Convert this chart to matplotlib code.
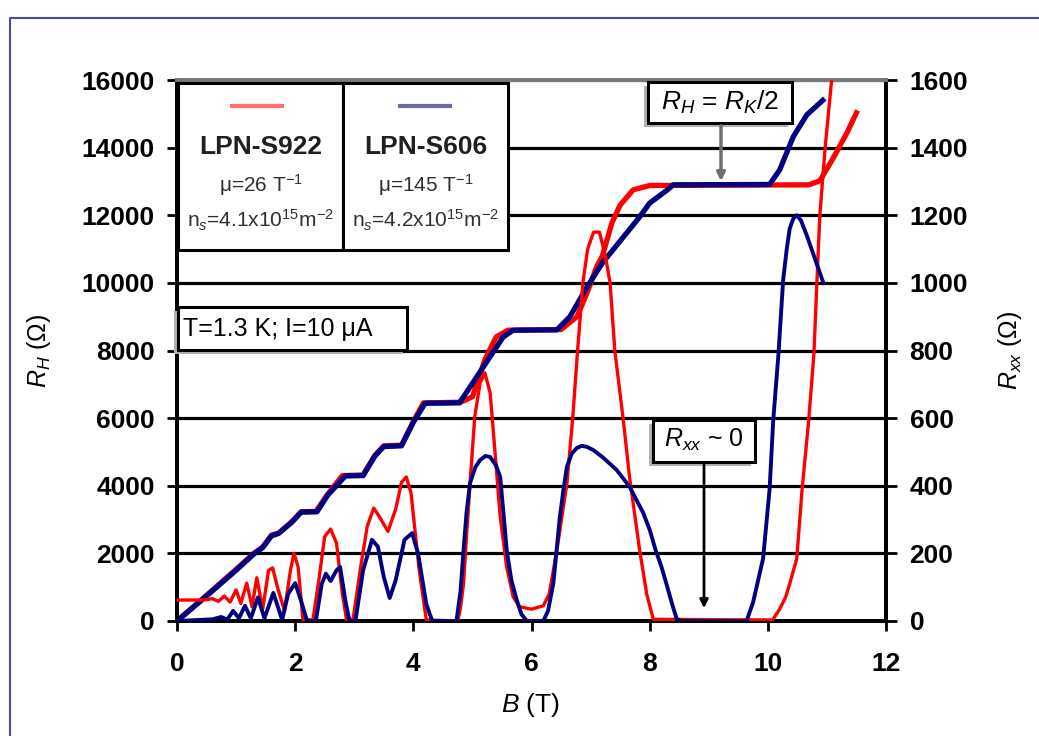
import numpy as np
import matplotlib
matplotlib.use("Agg")
import matplotlib.pyplot as plt
from matplotlib.patches import Rectangle, FancyArrowPatch
from matplotlib.lines import Line2D

plt.rcParams['font.family'] = ['Liberation Sans', 'DejaVu Sans']
plt.rcParams['mathtext.fontset'] = 'custom'
plt.rcParams['mathtext.rm'] = 'Liberation Sans'
plt.rcParams['mathtext.it'] = 'Liberation Sans:italic'
plt.rcParams['mathtext.bf'] = 'Liberation Sans:bold'

# Hall resistance R_H (left axis, Ohm) vs B (T)
rh_red = [(0, 0), (0.5, 760), (1.0, 1530), (1.3, 2000), (1.45, 2190), (1.6, 2540),
          (1.72, 2600), (1.95, 2950), (2.1, 3230), (2.35, 3240), (2.55, 3750),
          (2.8, 4300), (3.15, 4320), (3.35, 4900), (3.5, 5180), (3.8, 5200),
          (4.0, 5900), (4.17, 6450), (4.8, 6470), (5.0, 6630), (5.21, 7720),
          (5.4, 8400), (5.6, 8600), (6.5, 8620), (6.77, 9000), (6.94, 9700),
          (7.1, 10470), (7.2, 10800), (7.36, 11770), (7.5, 12300), (7.72, 12750),
          (8.0, 12880), (10.7, 12900), (10.88, 13020), (11.1, 13670),
          (11.34, 14440), (11.5, 15030)]
rh_blue = [(0, 0), (0.5, 740), (1.0, 1500), (1.3, 1980), (1.45, 2170), (1.6, 2520),
           (1.72, 2590), (1.95, 2930), (2.1, 3220), (2.37, 3230), (2.55, 3720),
           (2.85, 4290), (3.15, 4300), (3.35, 4880), (3.5, 5160), (3.8, 5180),
           (4.0, 5880), (4.2, 6440), (4.78, 6450), (4.85, 6630), (5.18, 7500),
           (5.52, 8400), (5.69, 8600), (6.43, 8610), (6.65, 9000), (6.94, 9880),
           (7.2, 10590), (7.83, 11950), (8.0, 12360), (8.3, 12750), (8.4, 12900),
           (10.03, 12910), (10.2, 13340), (10.43, 14320), (10.66, 14970),
           (10.93, 15400)]

# longitudinal resistance R_xx (right axis, Ohm) vs B (T)
rxx_red = [(0, 62), (0.45, 62), (0.6, 66), (0.7, 58), (0.8, 74), (0.9, 56), (1.0, 92),
           (1.08, 52), (1.18, 112), (1.27, 42), (1.35, 128), (1.45, 35), (1.55, 150),
           (1.62, 157), (1.7, 100), (1.82, 30), (1.92, 150), (1.98, 200), (2.05, 160),
           (2.13, 5), (2.3, 3), (2.4, 120), (2.5, 250), (2.6, 272), (2.7, 230),
           (2.8, 80), (2.87, 3), (2.98, 5), (3.1, 150), (3.22, 280), (3.33, 334),
           (3.42, 310), (3.57, 265), (3.7, 330), (3.8, 410), (3.88, 426), (3.96, 380),
           (4.1, 150), (4.22, 3), (4.75, 0), (4.8, 40), (4.85, 112), (4.9, 250),
           (4.96, 408), (5.04, 605), (5.13, 704), (5.21, 734), (5.3, 675), (5.38, 505),
           (5.47, 308), (5.58, 160), (5.69, 71), (5.8, 42), (6.0, 35), (6.2, 45),
           (6.3, 80), (6.43, 210), (6.6, 408), (6.7, 605), (6.78, 800), (6.87, 1000),
           (6.95, 1100), (7.05, 1150), (7.15, 1150), (7.25, 1080), (7.33, 1000),
           (7.41, 800), (7.55, 600), (7.66, 425), (7.83, 210), (7.95, 80), (8.06, 5),
           (10.08, 3), (10.2, 35), (10.3, 70), (10.37, 110), (10.49, 185), (10.58, 390),
           (10.69, 590), (10.78, 790), (10.83, 1000), (10.88, 1200), (10.97, 1400),
           (11.08, 1600), (11.12, 1700)]
rxx_blue = [(0, 0), (0.6, 5), (0.75, 12), (0.85, 4), (0.95, 30), (1.05, 8), (1.15, 45),
            (1.25, 8), (1.37, 70), (1.48, 8), (1.63, 83), (1.78, 3), (1.88, 80),
            (2.0, 112), (2.1, 60), (2.2, 0), (2.35, 0), (2.45, 110), (2.52, 140),
            (2.6, 118), (2.7, 150), (2.76, 160), (2.85, 60), (2.92, 0), (3.02, 0),
            (3.15, 150), (3.3, 240), (3.4, 220), (3.5, 130), (3.6, 68), (3.7, 120),
            (3.85, 240), (3.98, 260), (4.08, 200), (4.22, 50), (4.32, 0), (4.73, 0),
            (4.8, 90), (4.85, 210), (4.9, 320), (4.96, 408), (5.05, 455), (5.13, 476),
            (5.22, 488), (5.3, 485), (5.4, 460), (5.47, 426), (5.52, 330), (5.58, 210),
            (5.66, 120), (5.75, 62), (5.83, 20), (5.92, 0), (6.2, 0), (6.28, 30),
            (6.37, 112), (6.48, 308), (6.55, 400), (6.6, 456), (6.68, 495), (6.77, 512),
            (6.85, 518), (6.94, 515), (7.05, 505), (7.2, 485), (7.44, 447), (7.66, 397),
            (7.89, 320), (8.0, 270), (8.1, 210), (8.2, 160), (8.28, 112), (8.38, 50),
            (8.46, 5), (8.55, 0), (9.64, 0), (9.75, 55), (9.92, 185), (10.03, 390),
            (10.09, 590), (10.18, 790), (10.26, 1010), (10.32, 1100), (10.37, 1160),
            (10.43, 1190), (10.49, 1200), (10.56, 1185), (10.66, 1140), (10.8, 1070),
            (10.94, 1000)]

x_ticks = [0, 2, 4, 6, 8, 10, 12]
rh_ticks = [0, 2000, 4000, 6000, 8000, 10000, 12000, 14000, 16000]
rxx_ticks = [0, 200, 400, 600, 800, 1000, 1200, 1400, 1600]

RED = "#ff0000"
BLUE = "#000080"
W, H = 1039, 736


def px(x, y):
    # pixel position (from top-left) -> figure fraction
    return (x / W, 1 - y / H)


fig = plt.figure(figsize=(W / 100, H / 100), dpi=100)
ax = fig.add_axes([177 / W, 115 / H, 709 / W, 541 / H])
ax2 = ax.twinx()

ax.set_xlim(0, 12)
ax.set_ylim(0, 16000)
ax2.set_ylim(0, 1600)
ax.set_xticks(x_ticks)
ax.set_yticks(rh_ticks)
ax2.set_yticks(rxx_ticks)

tick_font = dict(fontsize=19, fontweight='bold')
ax.set_xticklabels([str(t) for t in x_ticks], **tick_font)
ax.set_yticklabels([str(t) for t in rh_ticks], **tick_font)
ax2.set_yticklabels([str(t) for t in rxx_ticks], **tick_font)

ax.tick_params(axis='x', direction='out', length=7, width=2, pad=15)
ax.tick_params(axis='y', direction='out', length=7, width=2, pad=9)
ax2.tick_params(axis='y', direction='out', length=8, width=2, pad=9)

ax.yaxis.grid(True, color='black', lw=2.3)
ax.set_axisbelow(True)

for a in (ax, ax2):
    for s in a.spines.values():
        s.set_linewidth(2.8)
        s.set_color('black')
    a.spines['top'].set_color('#7a7a7a')

# curves
b, v = np.array(rh_red).T
ax.plot(b, v, color=RED, lw=3.8, solid_joinstyle='round', zorder=3)
b, v = np.array(rh_blue).T
ax.plot(b, v, color=BLUE, lw=3.8, solid_joinstyle='round', zorder=4)
b, v = np.array(rxx_red).T
ax2.plot(b, v, color=RED, lw=2.4, solid_joinstyle='round', zorder=3)
b, v = np.array(rxx_blue).T
ax2.plot(b, v, color=BLUE, lw=2.8, solid_joinstyle='round', zorder=4)

# axis labels
ax.set_xlabel(r"$B$ (T)", fontsize=19)
ax.xaxis.set_label_coords(0.498, -0.13)
ax.set_ylabel(r"$R_H$ ($\Omega$)", fontsize=18)
ax.yaxis.set_label_coords(-0.175, 0.5)
ax2.set_ylabel(r"$R_{xx}$ ($\Omega$)", fontsize=18, rotation=90)
ax2.yaxis.set_label_coords(1.155, 0.5)


def box(x0, y0, x1, y1, shadow=True):
    if shadow:
        sx, sy = px(x0 - 4, y1 + 4)
        fig.patches.append(Rectangle((sx, sy), (x1 - x0) / W, (y1 - y0) / H,
                                     transform=fig.transFigure, facecolor='#b0b0b0',
                                     edgecolor='none', zorder=10))
    lx, ly = px(x0, y1)
    fig.patches.append(Rectangle((lx, ly), (x1 - x0) / W, (y1 - y0) / H,
                                 transform=fig.transFigure, facecolor='white',
                                 edgecolor='black', lw=2.2, zorder=11))


# sample legend boxes
box(178, 83, 343, 250, shadow=False)
box(343, 83, 508, 250, shadow=False)
fig.lines.append(Line2D([232 / W, 282 / W], [1 - 106 / H] * 2, color='#ff6f6f', lw=3,
                        transform=fig.transFigure, zorder=12))
fig.lines.append(Line2D([400 / W, 450 / W], [1 - 106 / H] * 2, color='#6a6aa8', lw=3,
                        transform=fig.transFigure, zorder=12))
for cx, name, mu, ns in [(261, "LPN-S922", "μ=26 T$^{-1}$", "n$_s$=4.1x10$^{15}$m$^{-2}$"),
                         (426, "LPN-S606", "μ=145 T$^{-1}$", "n$_s$=4.2x10$^{15}$m$^{-2}$")]:
    fig.text(*px(cx, 147), name, fontsize=19, fontweight='bold', color='#202020',
             ha='center', va='center', zorder=13)
    fig.text(*px(cx, 185), mu, fontsize=15, ha='center', va='center', color='#303030',
             zorder=13)
    fig.text(*px(cx, 220), ns, fontsize=15, ha='center', va='center', color='#303030',
             zorder=13)

# conditions box
box(178, 307, 407, 350)
fig.text(*px(183, 329), "T=1.3 K; I=10 μA", fontsize=18, ha='left', va='center',
         zorder=13)

# plateau annotation
box(648, 82, 792, 123)
fig.text(*px(720, 102), r"$R_H$ = $R_K$/2", fontsize=19, ha='center', va='center',
         zorder=13)
fig.patches.append(FancyArrowPatch(
    px(721, 123), px(721, 184), transform=fig.transFigure, arrowstyle='-|>',
    mutation_scale=12, color='#6e6e6e', lw=2.5, zorder=12))

# zero resistance annotation
box(653, 420, 755, 462)
fig.text(*px(704, 440), r"$R_{xx}$ ~ 0", fontsize=18, ha='center', va='center',
         zorder=13)
fig.patches.append(FancyArrowPatch(
    px(704, 462), px(704, 611), transform=fig.transFigure, arrowstyle='-|>',
    mutation_scale=12, color='black', lw=2, zorder=12))

# scan border
fig.lines.append(Line2D([10 / W, 10 / W, 1.0], [0, 1 - 18 / H, 1 - 18 / H],
                        color='#4a4aa8', lw=1.5, transform=fig.transFigure))

fig.savefig("out.png", dpi=100)
